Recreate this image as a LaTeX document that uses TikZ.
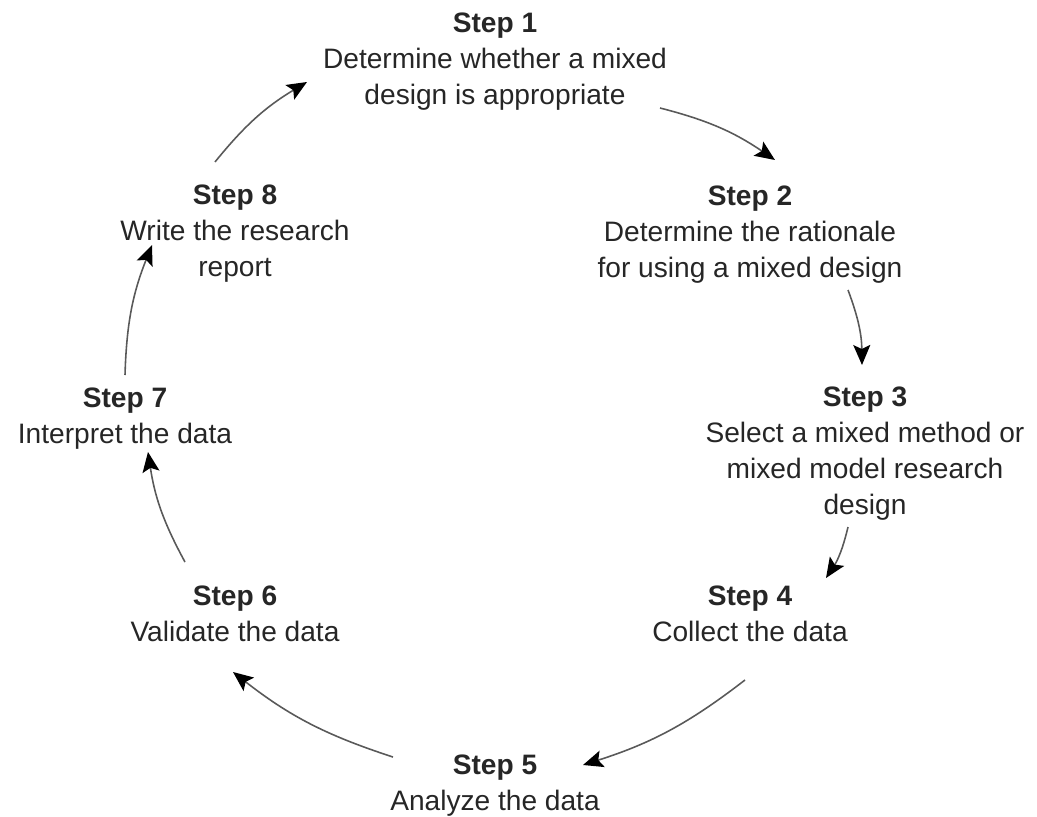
\documentclass[tikz,border=0pt]{standalone}
\usepackage{fontspec}
\setmainfont{Liberation Sans}
\usepackage{tikz}
\usetikzlibrary{arrows.meta}
\tikzstyle{stepnode}=[align=center,text=black!85,inner sep=0pt,
                      font=\fontsize{16}{20.5}\selectfont]
\tikzstyle{flow}=[draw=black!65,line width=0.9pt,bend left=10,
                  -{Stealth[black,length=4mm,width=3.4mm,inset=0.8mm]}]

\begin{document}
\begin{tikzpicture}
    \useasboundingbox (0,0) rectangle (20.74,-16.34);
    \node (s1) at ( 9.9, -1.24) [stepnode]{\textbf{Step 1}\\Determine whether a mixed\\design is appropriate};
    \node (s2) at (15.0, -4.70) [stepnode]{\textbf{Step 2}\\Determine the rationale\\for using a mixed design};
    \node (s3) at (17.3, -9.07) [stepnode]{\textbf{Step 3}\\Select a mixed method or\\mixed model research\\design};
    \node (s4) at (15.0,-12.28) [stepnode]{\textbf{Step 4}\\Collect the data};
    \node (s5) at ( 9.9,-15.72) [stepnode]{\textbf{Step 5}\\Analyze the data};
    \node (s6) at ( 4.7,-12.28) [stepnode]{\textbf{Step 6}\\Validate the data};
    \node (s7) at ( 2.5, -8.38) [stepnode]{\textbf{Step 7}\\Interpret the data};
    \node (s8) at ( 4.7, -4.68) [stepnode]{\textbf{Step 8}\\Write the research\\report};
    \draw[flow] ([shift={( 3.30,-0.92)}]s1.center) to ([shift={( 0.50, 1.50)}]s2.center);
    \draw[flow] ([shift={( 1.96,-1.10)}]s2.center) to ([shift={(-0.06, 1.77)}]s3.center);
    \draw[flow] ([shift={(-0.34,-1.47)}]s3.center) to ([shift={( 1.52, 0.72)}]s4.center);
    \draw[flow] ([shift={(-0.10,-1.32)}]s4.center) to ([shift={( 1.76, 0.42)}]s5.center);
    \draw[flow] ([shift={(-2.04, 0.58)}]s5.center) to ([shift={(-0.04,-1.16)}]s6.center);
    \draw[flow] ([shift={(-1.00, 1.04)}]s6.center) to ([shift={( 0.46,-0.66)}]s7.center);
    \draw[flow] ([shift={( 0.00, 0.88)}]s7.center) to ([shift={(-1.66,-0.22)}]s8.center);
    \draw[flow] ([shift={(-0.40, 1.44)}]s8.center) to ([shift={(-3.76,-0.40)}]s1.center);
\end{tikzpicture}
\end{document}
